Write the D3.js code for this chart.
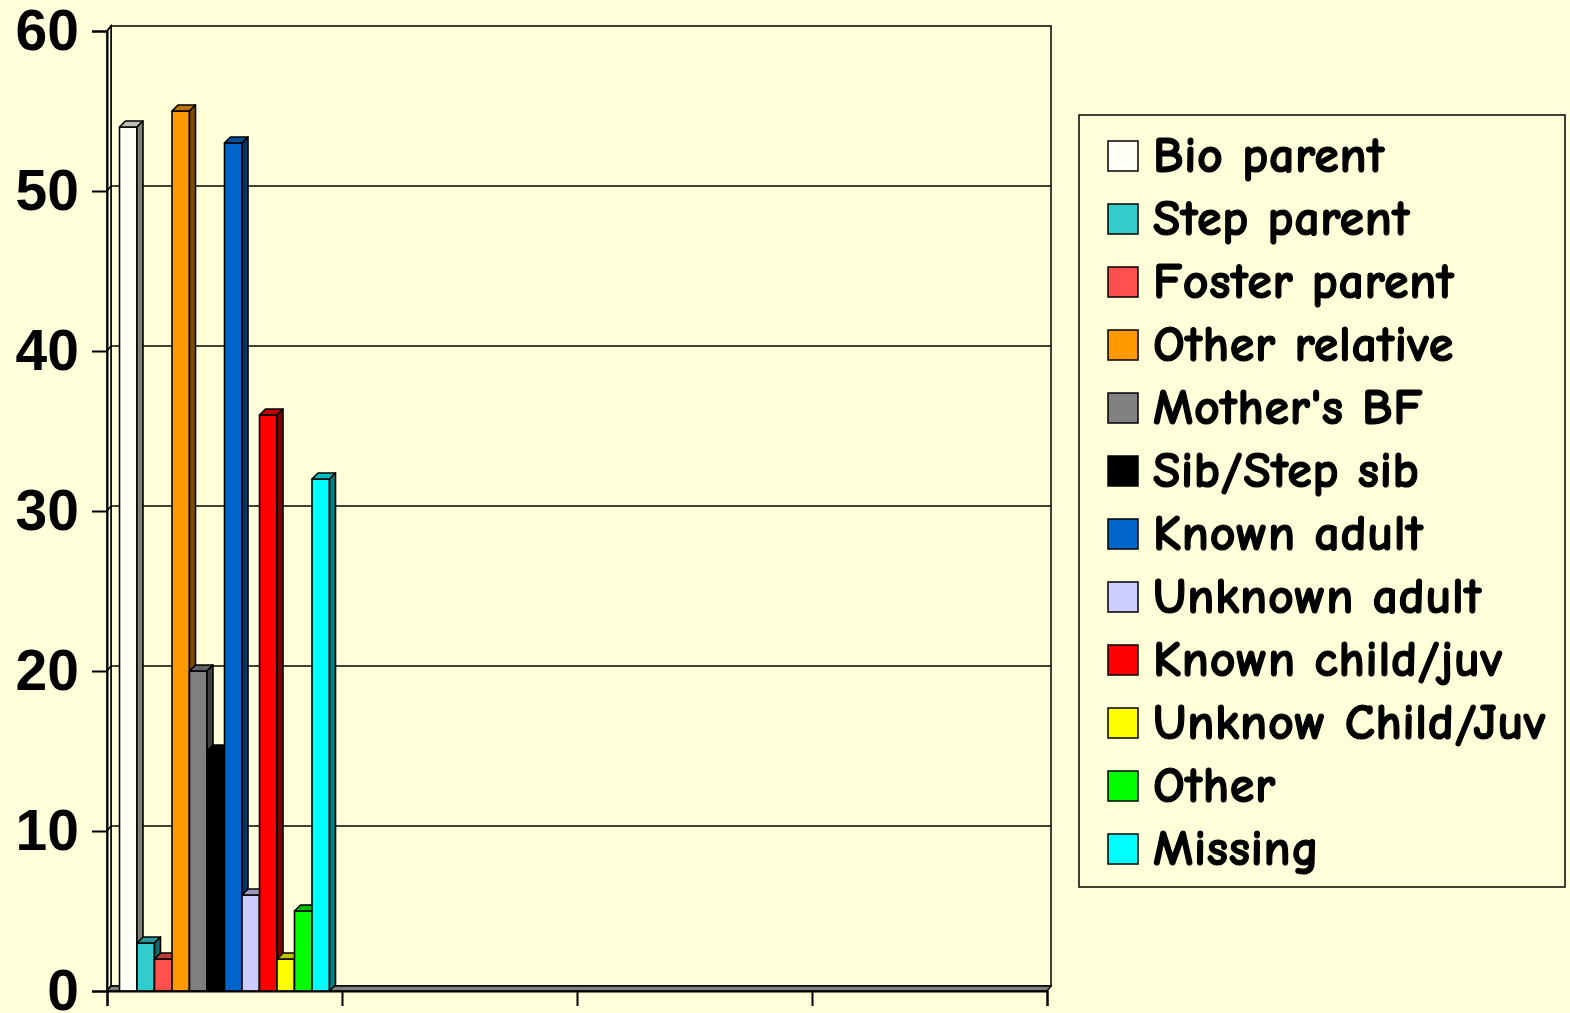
<!DOCTYPE html>
<html><head><meta charset="utf-8">
<script src="https://cdn.jsdelivr.net/npm/d3@7"></script>
<style>
html,body{margin:0;padding:0;background:#FFFFD9;}
svg{display:block;}
</style></head>
<body>
<svg id="chart" width="1570" height="1013"></svg>
<script>
// ---- data ----
const categories = ["G1", "G2", "G3", "G4"];
const seriesNames = ["Bio parent","Step parent","Foster parent","Other relative","Mother's BF","Sib/Step sib","Known adult","Unknown adult","Known child/juv","Unknow Child/Juv","Other","Missing"];
const seriesValues = [54, 3, 2, 55, 20, 15, 53, 6, 36, 2, 5, 32]; // all in first category
const seriesColors = ["#FFFFF5","#33CCCC","#FF5050","#FF9900","#808080","#000000","#0066CC","#CCCCFF","#FF0000","#FFFF00","#00FF00","#00FFFF"];
const yTicks = [0, 10, 20, 30, 40, 50, 60];

const svg = d3.select("#chart");
const bg = "#FFFFD9";
svg.append("rect").attr("width",1570).attr("height",1013).attr("fill",bg);

const left = 107, right = 1047, yTop = 31, yBot = 991;
const wdx = 4, wdy = -5;      // wall depth
const bdx = 6, bdy = -6;      // bar depth

const y = d3.scaleLinear().domain([0,60]).range([yBot, yTop]);
const xGroup = d3.scaleBand().domain(categories).range([left, right]).padding(0);
const xSeries = d3.scaleBand().domain(seriesNames).range([0, xGroup.bandwidth()]).paddingInner(0).paddingOuter(0.714);
const xEdge = d3.scaleLinear().domain([0, categories.length]).range([left, right]);

// back wall
const g = svg.append("g");
g.append("rect").attr("x", left+wdx).attr("y", yTop+wdy).attr("width", right-left).attr("height", yBot-yTop)
  .attr("fill", bg).attr("stroke", "#000").attr("stroke-width", 1.5);
// left side wall
g.append("path").attr("d", `M${left},${yBot}L${left},${yTop}L${left+wdx},${yTop+wdy}L${left+wdx},${yBot+wdy}Z`)
  .attr("fill", bg).attr("stroke", "#000").attr("stroke-width", 1.5);
// gridlines on back wall
yTicks.filter(t => t > 0 && t < 60).forEach(t => {
  g.append("line").attr("x1", left+wdx).attr("x2", right+wdx).attr("y1", y(t)+wdy).attr("y2", y(t)+wdy)
    .attr("stroke", "#000").attr("stroke-width", 1.5);
});
yTicks.forEach(t => {
  g.append("line").attr("x1", left).attr("x2", left+wdx).attr("y1", y(t)).attr("y2", y(t)+wdy)
    .attr("stroke", "#000").attr("stroke-width", 1.5);
});
// floor
g.append("path").attr("d", `M${left},${yBot}L${right},${yBot}L${right+wdx},${yBot+wdy}L${left+wdx},${yBot+wdy}Z`)
  .attr("fill", "#808080").attr("stroke", "#000").attr("stroke-width", 1.5);

// bars
const shade = (c, k) => { const r = d3.rgb(c); return d3.rgb(r.r*k, r.g*k, r.b*k).formatHex(); };
const bars = g.append("g");
seriesNames.forEach((name, i) => {
  const v = seriesValues[i];
  const x0 = xGroup(categories[0]) + xSeries(name);
  const w = xSeries.bandwidth();
  const y0 = y(0), y1 = y(v);
  const b = bars.append("g").attr("stroke", "#000").attr("stroke-width", 1.6).attr("stroke-linejoin","round");
  b.append("rect").attr("x", x0).attr("y", y1).attr("width", w).attr("height", y0-y1).attr("fill", seriesColors[i]);
  b.append("path").attr("d", `M${x0},${y1}L${x0+bdx},${y1+bdy}L${x0+w+bdx},${y1+bdy}L${x0+w},${y1}Z`).attr("fill", shade(seriesColors[i], 0.75));
  b.append("path").attr("d", `M${x0+w},${y1}L${x0+w+bdx},${y1+bdy}L${x0+w+bdx},${y0+bdy}L${x0+w},${y0}Z`).attr("fill", shade(seriesColors[i], 0.5));
});

// y axis
const yAxis = d3.axisLeft(y).tickValues(yTicks).tickSize(15).tickPadding(14).tickFormat(d3.format("d"));
const ya = svg.append("g").attr("transform", `translate(${left},0)`).call(yAxis);
ya.select(".domain").attr("stroke-width", 2);
ya.selectAll(".tick line").attr("stroke-width", 2);
ya.selectAll("text").attr("font-family", "'Liberation Sans', Arial, sans-serif").attr("font-weight", "bold")
  .attr("font-size", 57).attr("fill", "#000").attr("dx", 1);

// x axis
const xAxis = d3.axisBottom(xEdge).tickValues(d3.range(categories.length+1)).tickSize(15).tickFormat(() => "");
const xa = svg.append("g").attr("transform", `translate(0,${yBot})`).call(xAxis);
xa.select(".domain").attr("stroke-width", 2);
xa.selectAll(".tick line").attr("stroke-width", 2);

// legend
const lx = 1079, ly = 115, lw = 486, lh = 772;
const leg = svg.append("g");
leg.append("rect").attr("x", lx).attr("y", ly).attr("width", lw).attr("height", lh)
  .attr("fill", bg).attr("stroke", "#000").attr("stroke-width", 1.5);
const rowStep = 63;
seriesNames.forEach((name, i) => {
  const cy = 156 + i*rowStep;
  leg.append("rect").attr("x", 1108).attr("y", cy-15).attr("width", 30).attr("height", 30)
    .attr("fill", seriesColors[i]).attr("stroke", "#000").attr("stroke-width", 1.5);
  leg.append("text").attr("x", 1153).attr("y", cy+16).text(name)
    .attr("font-family", "'Comic Sans MS', 'Comic Neue', Lato, sans-serif").attr("font-weight", "bold")
    .attr("font-size", 50).attr("fill", "#000").attr("stroke", "#000").attr("stroke-width", 1.2)
    .attr("letter-spacing", 0.7);
});
</script>
</body></html>
